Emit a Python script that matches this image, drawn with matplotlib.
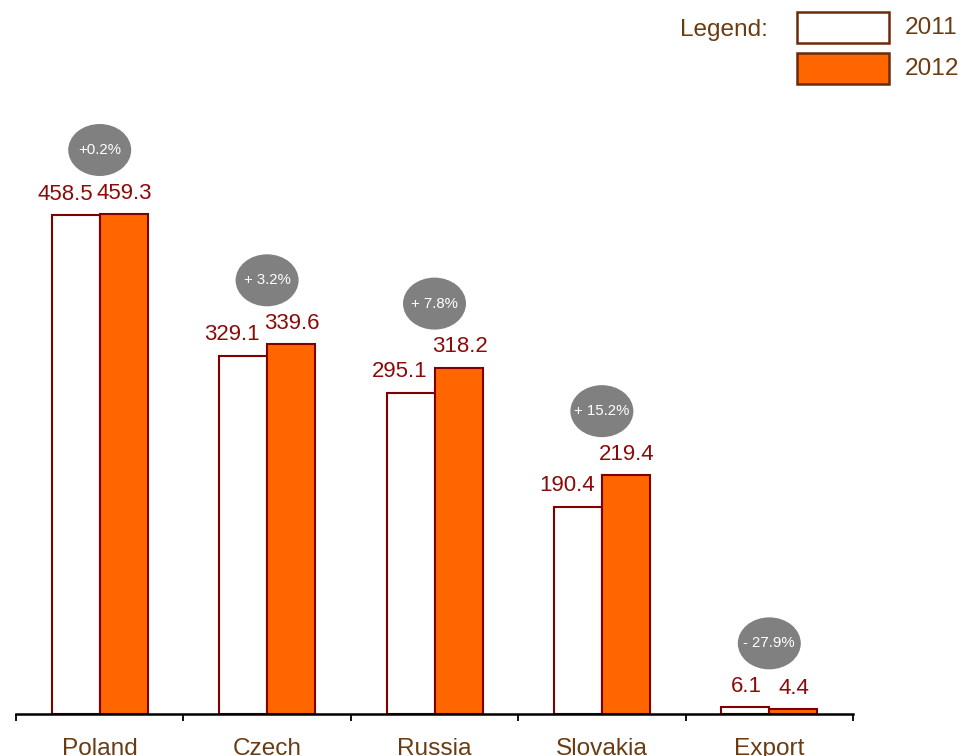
import numpy as np
import matplotlib.pyplot as plt
from matplotlib.patches import Ellipse, Rectangle

plt.rcParams['font.family'] = ['Liberation Sans', 'DejaVu Sans']

# данные
categories = ['Poland', 'Czech', 'Russia', 'Slovakia', 'Export']
values_2011 = [458.5, 329.1, 295.1, 190.4, 6.1]
values_2012 = [459.3, 339.6, 318.2, 219.4, 4.4]
changes = ['+0.2%', '+ 3.2%', '+ 7.8%', '+ 15.2%', '- 27.9%']
years = ['2011', '2012']

W, H = 965, 756
orange = '#FF6600'
edge = '#800000'
label_red = '#8B0A0A'
brown = '#6B3C12'
legend_edge = '#6B2A0A'

fig = plt.figure(figsize=(W / 100, H / 100), dpi=100)
ax_left, ax_right, ax_base, ax_top = 16, 853, 714, 100
ax = fig.add_axes([ax_left / W, (H - ax_base) / H,
                   (ax_right - ax_left) / W, (ax_base - ax_top) / H])

n = len(categories)
x = np.arange(n) + 0.5
bw = 48 / ((ax_right - ax_left) / n)
px_per_unit = 500 / 459.3
ax.set_xlim(0, n)
ax.set_ylim(0, (ax_base - ax_top) / px_per_unit)

ax.bar(x - bw / 2, values_2011, bw, color='white', edgecolor=edge, linewidth=1.5)
ax.bar(x + bw / 2, values_2012, bw, color=orange, edgecolor=edge, linewidth=1.5)

# подписи значений: белые прижаты вправо, оранжевые по центру
pt = 72 / 100
for xi, v1, v2 in zip(x, values_2011, values_2012):
    ax.annotate(f'{v1:.1f}', (xi, v1), xytext=(-7 * pt, 15), textcoords='offset points',
                ha='right', va='center', fontsize=16, color=label_red)
    ax.annotate(f'{v2:.1f}', (xi + bw / 2, v2), xytext=(1 * pt, 15), textcoords='offset points',
                ha='center', va='center', fontsize=16, color=label_red)

# серые эллипсы с изменением
ew = 63 / ((ax_right - ax_left) / n)
eh = 52 / px_per_unit
for xi, v1, v2, ch in zip(x, values_2011, values_2012, changes):
    yc = max(v1, v2) + 64 / px_per_unit
    ax.add_patch(Ellipse((xi, yc), ew, eh, facecolor='#808080', edgecolor='none',
                         clip_on=False))
    ax.text(xi, yc, ch, ha='center', va='center', fontsize=10.8, color='white')

# оси
for s in ['top', 'right', 'left']:
    ax.spines[s].set_visible(False)
ax.spines['bottom'].set_linewidth(1.8)
ax.spines['bottom'].set_color('black')
ax.set_yticks([])
ax.set_xticks(np.arange(n + 1))
ax.tick_params(axis='x', direction='out', length=5, width=1.3, labelbottom=False)
for xi, name in zip(x, categories):
    ax.annotate(name, (xi, 0), xycoords='data', xytext=(0, -25),
                textcoords='offset points', ha='center', va='center',
                fontsize=17.6, color=brown, annotation_clip=False)

# легенда
def fx(px):
    return px / W

def fy(py):
    return 1 - py / H

fig.text(fx(768), fy(30), 'Legend:', ha='right', va='center', fontsize=17.6, color=brown)
for i, (yr, fc) in enumerate(zip(years, ['white', orange])):
    top = 12 + i * 41
    fig.add_artist(Rectangle((fx(797), fy(top + 31)), fx(92), 31 / H,
                             transform=fig.transFigure, facecolor=fc,
                             edgecolor=legend_edge, linewidth=1.8))
    fig.text(fx(905), fy(top + 16), yr, ha='left', va='center', fontsize=17.6, color=brown)

fig.savefig('out.png', dpi=100)
